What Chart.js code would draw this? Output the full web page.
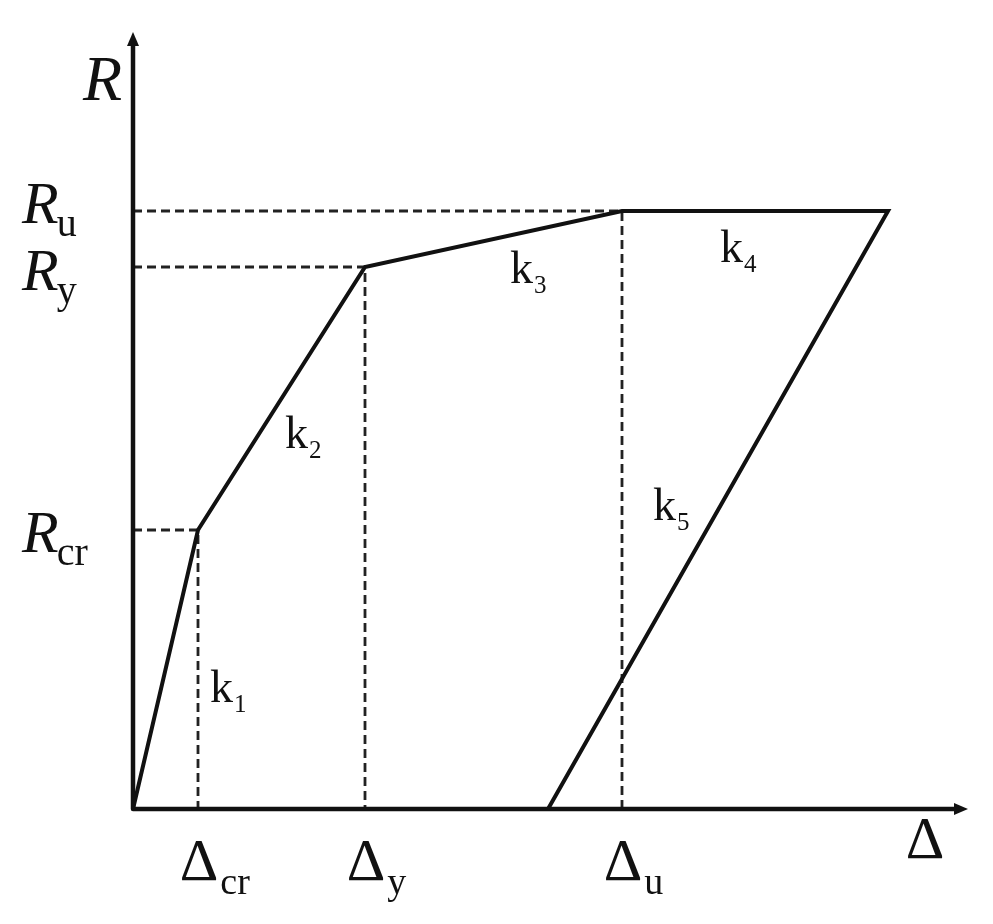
<!DOCTYPE html>
<html>
<head>
<meta charset="utf-8">
<script src="https://cdn.jsdelivr.net/npm/chart.js@4/dist/chart.umd.min.js"></script>
<style>
  html, body { margin: 0; padding: 0; background: #fff; }
  #wrap { width: 993px; height: 924px; }
</style>
</head>
<body>
<div id="wrap"><canvas id="c" width="993" height="924"></canvas></div>
<script>
// ---- data (arbitrary units) ----
const pointNames = ['cr', 'y', 'u'];
const deltaValues = [6.5, 23.2, 48.9];      // Δcr, Δy, Δu
const rValues = [27.9, 54.2, 59.8];         // Rcr, Ry, Ru
const curveX = [0, 6.5, 23.2, 48.9, 75.5, 41.5];
const curveY = [0, 27.9, 54.2, 59.8, 59.8, 0];
const axisMaxX = 83.5;
const axisMaxY = 77.7;
const stiffnessNames = ['1', '2', '3', '4', '5'];
const stiffnessAtX = [7.7, 15.2, 37.7, 58.7, 52.0];
const stiffnessAtY = [10.7, 36.1, 52.6, 54.7, 28.9];

const curveData = curveX.map((x, i) => ({ x: x, y: curveY[i] }));
const guideSets = deltaValues.map((d, i) => ({
  data: [{ x: 0, y: rValues[i] }, { x: d, y: rValues[i] }, { x: d, y: 0 }],
  showLine: true,
  borderColor: '#222',
  borderWidth: 2.8,
  borderDash: [9, 5],
  pointRadius: 0,
  fill: false,
  clip: false,
  order: 2
}));

const SERIF = '"Liberation Serif", "Times New Roman", serif';

const annot = {
  id: 'annot',
  afterDraw(chart) {
    const ctx = chart.ctx;
    const xs = chart.scales.x, ys = chart.scales.y;
    const x0 = xs.getPixelForValue(0), y0 = ys.getPixelForValue(0);
    const xEnd = xs.getPixelForValue(axisMaxX), yEnd = ys.getPixelForValue(axisMaxY);
    ctx.save();
    // axes
    ctx.strokeStyle = '#111';
    ctx.fillStyle = '#111';
    ctx.lineWidth = 4.5;
    ctx.lineCap = 'round';
    ctx.lineJoin = 'round';
    ctx.beginPath();
    ctx.moveTo(x0, yEnd + 10);
    ctx.lineTo(x0, y0);
    ctx.lineTo(xEnd - 10, y0);
    ctx.stroke();
    // arrow heads
    ctx.beginPath();
    ctx.moveTo(x0, yEnd);
    ctx.lineTo(x0 - 6, yEnd + 14);
    ctx.lineTo(x0 + 6, yEnd + 14);
    ctx.closePath();
    ctx.fill();
    ctx.beginPath();
    ctx.moveTo(xEnd, y0);
    ctx.lineTo(xEnd - 14, y0 - 6);
    ctx.lineTo(xEnd - 14, y0 + 6);
    ctx.closePath();
    ctx.fill();

    ctx.textBaseline = 'alphabetic';
    ctx.fillStyle = '#111';
    // axis titles
    ctx.font = 'italic 64px ' + SERIF;
    ctx.textAlign = 'left';
    ctx.fillText('R', x0 - 50, yEnd + 68);
    ctx.font = '60px ' + SERIF;
    ctx.textAlign = 'center';
    ctx.fillText('\u0394', xEnd - 43, y0 + 49);

    // R labels
    const rBase = [22, 23, 12];
    pointNames.forEach((n, i) => {
      const py = ys.getPixelForValue(rValues[i]) + rBase[i];
      ctx.font = 'italic 60px ' + SERIF;
      ctx.textAlign = 'left';
      ctx.fillText('R', 22, py);
      const w = ctx.measureText('R').width;
      ctx.font = '40px ' + SERIF;
      ctx.fillText(n, 22 + w - 2, py + 13);
    });

    // Δ labels
    pointNames.forEach((n, i) => {
      const px = xs.getPixelForValue(deltaValues[i]);
      const py = y0 + 71;
      ctx.font = '60px ' + SERIF;
      ctx.textAlign = 'center';
      ctx.fillText('\u0394', px + 1, py);
      const w = ctx.measureText('\u0394').width;
      ctx.font = '38px ' + SERIF;
      ctx.textAlign = 'left';
      ctx.fillText(n, px + 1 + w / 2 + 2, py + 14);
    });

    // k labels
    stiffnessNames.forEach((n, i) => {
      const px = xs.getPixelForValue(stiffnessAtX[i]);
      const py = ys.getPixelForValue(stiffnessAtY[i]);
      ctx.font = '46px ' + SERIF;
      ctx.textAlign = 'left';
      ctx.fillText('k', px, py);
      const w = ctx.measureText('k').width;
      ctx.font = '25px ' + SERIF;
      ctx.fillText(n, px + w + 1, py + 10);
    });
    ctx.restore();
  }
};

new Chart(document.getElementById('c'), {
  type: 'scatter',
  data: {
    datasets: [
      {
        data: curveData,
        showLine: true,
        borderColor: '#111',
        borderWidth: 4,
        pointRadius: 0,
        fill: false,
        clip: false,
        tension: 0,
        order: 1
      },
      ...guideSets
    ]
  },
  options: {
    responsive: false,
    animation: false,
    layout: { padding: { left: 133, right: 25, top: 32, bottom: 115 } },
    plugins: { legend: { display: false }, tooltip: { enabled: false } },
    scales: {
      x: { type: 'linear', min: 0, max: axisMaxX, display: false },
      y: { type: 'linear', min: 0, max: axisMaxY, display: false }
    }
  },
  plugins: [annot]
});
</script>
</body>
</html>
